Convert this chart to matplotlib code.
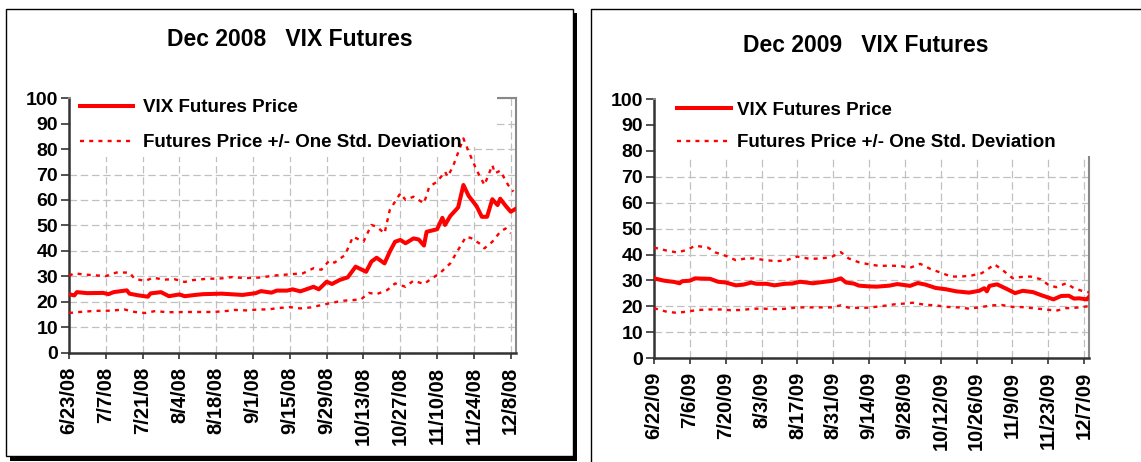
import datetime as dt

import matplotlib
matplotlib.use("Agg")
import matplotlib.pyplot as plt
from matplotlib.lines import Line2D
from matplotlib.patches import Rectangle

W, H = 1141, 462

# ---- Dec 2008 contract (days are calendar days after 6/23/08) ----
start_08 = dt.date(2008, 6, 23)
ticks_08 = ["6/23/08", "7/7/08", "7/21/08", "8/4/08", "8/18/08", "9/1/08", "9/15/08",
            "9/29/08", "10/13/08", "10/27/08", "11/10/08", "11/24/08", "12/8/08"]

price_08_day = [0, 2, 3, 7, 13, 15, 17, 22, 23, 26, 30, 31, 35, 38, 42, 44, 48, 51, 58,
                66, 71, 73, 77, 79, 83, 85, 88, 93, 95, 98, 100, 103, 106, 109, 113, 115,
                117, 120, 122, 124, 126, 128, 131, 133, 135, 136, 140, 142, 143, 145, 148,
                150, 152, 155, 157, 159, 161, 163, 164, 166, 168, 170]
price_08 = [23.0, 22.5, 23.8, 23.4, 23.5, 23.0, 23.8, 24.5, 23.2, 22.6, 22.0, 23.3, 23.8,
            22.2, 22.9, 22.2, 22.7, 23.0, 23.2, 22.7, 23.4, 24.2, 23.6, 24.4, 24.4, 24.9,
            24.1, 25.9, 24.9, 27.9, 27.0, 28.6, 29.6, 33.8, 31.8, 35.8, 37.3, 35.1, 39.7,
            43.6, 44.3, 43.0, 44.9, 44.5, 42.1, 47.5, 48.5, 53.0, 50.2, 53.7, 57.1, 65.9,
            61.6, 57.6, 53.4, 53.4, 60.3, 58.0, 60.5, 57.8, 55.4, 56.6]

upper_08_day = [0, 2, 6, 14, 18, 23, 25, 29, 32, 36, 40, 44, 47, 52, 58, 62, 67, 72, 79,
                84, 89, 93, 96, 99, 101, 105, 108, 112, 115, 117, 120, 122, 126, 128, 131,
                135, 137, 140, 143, 144, 146, 150, 152, 155, 158, 161, 162, 164, 167, 169]
upper_08 = [30.2, 31.2, 30.7, 30.1, 31.5, 31.5, 29.0, 28.2, 29.5, 28.7, 28.9, 27.8, 28.5,
            29.0, 29.2, 29.7, 29.3, 29.5, 30.4, 30.8, 31.2, 33.2, 32.6, 36.2, 35.4, 38.4,
            45.6, 43.6, 50.2, 49.5, 46.9, 56.1, 62.6, 60.0, 61.3, 58.7, 65.2, 67.2, 71.1,
            69.2, 73.1, 84.2, 79.0, 71.8, 65.9, 73.7, 70.5, 71.5, 65.9, 63.3]

lower_08_day = [0, 4, 8, 12, 16, 21, 25, 29, 33, 37, 45, 55, 60, 63, 68, 72, 76, 79, 84,
                88, 92, 99, 104, 111, 114, 117, 121, 124, 128, 131, 135, 138, 141, 145,
                148, 151, 153, 156, 158, 161, 164, 166, 168]
lower_08 = [15.6, 16.0, 16.3, 16.5, 16.5, 17.0, 16.0, 15.6, 16.4, 15.9, 16.0, 16.0, 16.4,
            16.8, 16.6, 17.0, 17.0, 17.5, 17.9, 17.4, 17.8, 19.4, 20.4, 20.9, 23.5, 23.0,
            24.6, 27.2, 25.9, 28.3, 27.0, 29.2, 31.2, 35.1, 40.4, 45.6, 45.0, 43.0, 41.0,
            43.6, 47.5, 48.8, 46.9]

# ---- Dec 2009 contract (days are calendar days after 6/22/09) ----
start_09 = dt.date(2009, 6, 22)
ticks_09 = ["6/22/09", "7/6/09", "7/20/09", "8/3/09", "8/17/09", "8/31/09", "9/14/09",
            "9/28/09", "10/12/09", "10/26/09", "11/9/09", "11/23/09", "12/7/09"]

price_09_day = [0, 4, 8, 10, 11, 14, 16, 22, 25, 28, 32, 35, 38, 40, 44, 47, 51, 54, 57,
                62, 66, 70, 73, 75, 78, 80, 84, 87, 92, 95, 100, 103, 106, 110, 114, 118,
                123, 127, 129, 130, 131, 134, 138, 141, 144, 148, 151, 156, 159, 162, 164,
                166, 169, 170]
price_09 = [30.8, 29.9, 29.4, 28.9, 29.7, 29.9, 30.8, 30.6, 29.5, 29.2, 28.1, 28.4, 29.2,
            28.7, 28.7, 28.1, 28.7, 28.8, 29.5, 28.9, 29.4, 29.9, 30.8, 29.2, 28.8, 28.0,
            27.7, 27.6, 28.0, 28.6, 27.9, 29.0, 28.4, 27.1, 26.6, 25.8, 25.3, 26.0, 27.0,
            25.8, 27.9, 28.5, 26.6, 25.1, 26.0, 25.5, 24.4, 22.7, 24.0, 24.1, 23.0, 23.1,
            22.7, 23.8]

upper_09_day = [0, 5, 9, 13, 16, 21, 24, 28, 32, 36, 39, 43, 48, 52, 56, 61, 65, 69, 73,
                76, 80, 84, 88, 92, 96, 100, 104, 108, 112, 116, 120, 124, 128, 130, 133,
                136, 140, 143, 147, 151, 154, 157, 161, 164, 168, 170]
upper_09 = [42.7, 41.5, 40.8, 41.8, 43.4, 42.7, 40.8, 39.5, 37.8, 38.5, 38.5, 37.9, 37.4,
            37.9, 39.2, 38.3, 38.5, 38.9, 40.9, 38.5, 37.0, 36.2, 35.6, 35.7, 35.6, 34.9,
            36.4, 34.4, 33.0, 31.5, 31.5, 31.9, 32.8, 34.1, 36.2, 34.1, 30.9, 31.3, 31.5,
            30.5, 28.3, 27.4, 28.9, 27.0, 25.7, 25.4]

lower_09_day = [0, 5, 9, 13, 17, 22, 26, 30, 34, 39, 43, 48, 52, 56, 61, 65, 69, 73, 76,
                80, 84, 89, 94, 98, 101, 106, 110, 114, 119, 123, 127, 132, 136, 140, 144,
                149, 153, 157, 161, 165, 170]
lower_09 = [19.3, 17.9, 17.5, 18.0, 18.6, 18.8, 18.8, 18.5, 18.6, 19.1, 19.1, 18.9, 19.1,
            19.6, 19.6, 19.6, 19.6, 20.4, 19.5, 19.4, 19.5, 20.1, 20.8, 21.1, 21.4, 20.6,
            20.4, 19.8, 19.6, 19.1, 19.6, 20.4, 20.5, 19.8, 19.7, 19.2, 18.8, 18.3, 19.3,
            19.5, 20.1]

titles = ["Dec 2008   VIX Futures", "Dec 2009   VIX Futures"]
legend_labels = ["VIX Futures Price", "Futures Price +/- One Std. Deviation"]

RED = "#ff0000"
DOTS = (0, (1.7, 2.2))

plt.rcParams["font.family"] = ["Liberation Sans", "DejaVu Sans"]
plt.rcParams["font.weight"] = "bold"


def to_dates(start, days):
    return [start + dt.timedelta(days=d) for d in days]


def px_box(x0, y0, x1, y1):
    # pixel box (top-left origin) -> figure fraction [left, bottom, width, height]
    return [x0 / W, 1 - y1 / H, (x1 - x0) / W, (y1 - y0) / H]


def draw_panel(ax, start, series, tick_labels, covers):
    (pd_, pv), (ud, uv), (ld, lv) = series
    ax.plot(to_dates(start, pd_), pv, color=RED, lw=2.9, zorder=4)
    ax.plot(to_dates(start, ud), uv, color=RED, lw=1.7, ls=DOTS, zorder=4)
    ax.plot(to_dates(start, ld), lv, color=RED, lw=1.7, ls=DOTS, zorder=4)

    ticks = [dt.datetime.strptime(t, "%m/%d/%y").date() for t in tick_labels]
    ax.set_xticks(ticks)
    ax.set_xticklabels(tick_labels, rotation=90)
    ax.set_xlim(start, start + dt.timedelta(days=170))
    ax.set_ylim(0, 100)
    ax.set_yticks(range(0, 101, 10))

    ax.set_axisbelow(True)
    ax.grid(True, color="#c0c0c0", ls=(0, (6, 3)), lw=0.9)
    ax.tick_params(axis="y", direction="out", length=6, width=1.2, pad=2,
                   labelsize=14, color="#333333")
    ax.tick_params(axis="x", direction="out", length=4, width=1.2, pad=6,
                   labelsize=14.5, color="#333333")
    for side in ("left", "bottom"):
        ax.spines[side].set_color("#333333")
        ax.spines[side].set_linewidth(1.8)
    for side in ("top", "right"):
        ax.spines[side].set_color("#888888")
        ax.spines[side].set_linewidth(1.5)

    # white legend area hiding the grid
    for (x0, y0, x1, y1) in covers:
        ax.add_patch(Rectangle((x0, y0), x1 - x0, y1 - y0, transform=ax.transAxes,
                               facecolor="white", edgecolor="none", zorder=2.6,
                               clip_on=False))


fig = plt.figure(figsize=(W / 100, H / 100), dpi=100)

# panel frames
fig.add_artist(Rectangle((6 / W, 1 - 455.5 / H), 566.5 / W, 446.5 / H,
                         transform=fig.transFigure, fill=False, edgecolor="black", lw=1))
fig.add_artist(Rectangle((573 / W, 1 - 460.5 / H), 4 / W, 448 / H,
                         transform=fig.transFigure, facecolor="black", edgecolor="none"))
fig.add_artist(Rectangle((10 / W, 1 - 460.5 / H), 567 / W, 4.5 / H,
                         transform=fig.transFigure, facecolor="black", edgecolor="none"))
fig.add_artist(Line2D([591 / W, 591 / W, 1], [0, 1 - 9 / H, 1 - 9 / H],
                      transform=fig.transFigure, color="black", lw=1))

ax1 = fig.add_axes(px_box(69, 98.2, 516, 352.7))
draw_panel(ax1, start_08,
           [(price_08_day, price_08), (upper_08_day, upper_08), (lower_08_day, lower_08)],
           ticks_08,
           covers=[(0.004, 0.81, 0.9575, 1.01), (0.004, 0.769, 0.888, 0.82)])

ax2 = fig.add_axes(px_box(654, 99, 1089.3, 358.2))
draw_panel(ax2, start_09,
           [(price_09_day, price_09), (upper_09_day, upper_09), (lower_09_day, lower_09)],
           ticks_09,
           covers=[(0.004, 0.78, 1.015, 1.01)])

handles = [Line2D([], [], color=RED, lw=2.9),
           Line2D([], [], color=RED, lw=1.7, ls=DOTS)]
ax1.legend(handles, legend_labels, loc="upper left", bbox_to_anchor=(0.0246, 0.996),
           frameon=False, fontsize=13.5, handlelength=2.85, handletextpad=0.5,
           labelspacing=0.95, borderpad=0, borderaxespad=0)
ax2.legend(handles, legend_labels, loc="upper left", bbox_to_anchor=(0.053, 0.99),
           frameon=False, fontsize=13.5, handlelength=2.85, handletextpad=0.37,
           labelspacing=0.83, borderpad=0, borderaxespad=0)

fig.text(290 / W, 1 - 40 / H, titles[0], ha="center", va="center", fontsize=16.5)
fig.text(866 / W, 1 - 46 / H, titles[1], ha="center", va="center", fontsize=16.5)

fig.savefig("out.png", dpi=100)
